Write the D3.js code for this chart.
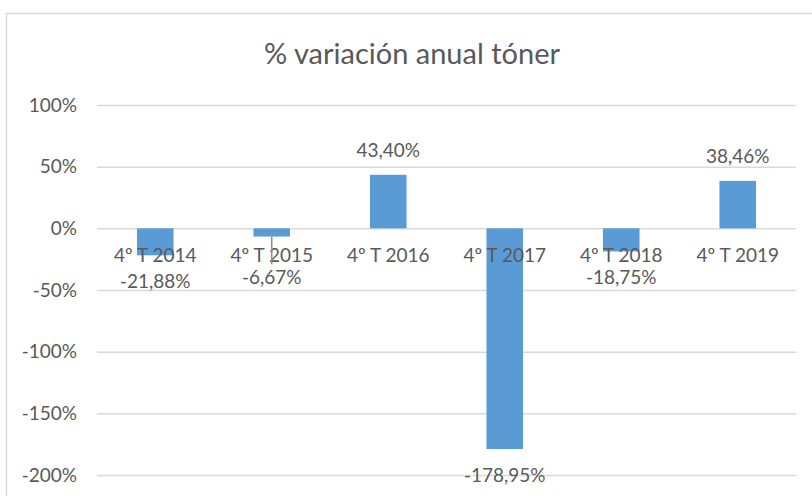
<!DOCTYPE html>
<html>
<head>
<meta charset="utf-8">
<script src="https://cdn.jsdelivr.net/npm/d3@7"></script>
<style>
  body { margin: 0; background: #fff; }
  text { font-family: Lato, "Open Sans", sans-serif; fill: #595959; }
</style>
</head>
<body>
<div id="chart"></div>
<script>
// data
const categories = ["4º T 2014", "4º T 2015", "4º T 2016", "4º T 2017", "4º T 2018", "4º T 2019"]
const variation = [-21.88, -6.67, 43.40, -178.95, -18.75, 38.46]
const yTicks = [100, 50, 0, -50, -100, -150, -200]
const title = "% variación anual tóner"

const data = categories.map((c, i) => ({ cat: c, value: variation[i] }))

// dimensions
const dimensions = {
  width: 812,
  height: 496,
  plot: { left: 97, right: 796, top: 105, bottom: 475 }
}

const svg = d3.select('#chart')
  .append('svg')
  .attr('width', dimensions.width)
  .attr('height', dimensions.height)

// chart area border (runs off the picture on right and bottom)
svg.append('rect')
  .attr('x', 6.5)
  .attr('y', 13.5)
  .attr('width', 900)
  .attr('height', 600)
  .attr('fill', 'none')
  .attr('stroke', '#d9d9d9')
  .attr('stroke-width', 1.5)

// scales
const xScale = d3.scaleBand()
  .domain(categories)
  .range([dimensions.plot.left, dimensions.plot.right])

const yScale = d3.scaleLinear()
  .domain([-200, 100])
  .range([dimensions.plot.bottom, dimensions.plot.top])

const barWidth = xScale.bandwidth() * 0.314

// y axis + gridlines
const yAxis = d3.axisLeft(yScale)
  .tickValues(yTicks)
  .tickFormat(d => d + '%')
  .tickSize(-(dimensions.plot.right - dimensions.plot.left))
  .tickPadding(20)

const yAxisGroup = svg.append('g')
  .attr('transform', `translate(${dimensions.plot.left}, 0)`)
  .call(yAxis)

yAxisGroup.select('.domain').remove()
yAxisGroup.selectAll('.tick line')
  .attr('stroke', '#d9d9d9')
  .attr('stroke-width', 1.5)
yAxisGroup.selectAll('.tick text')
  .attr('font-size', 19)
  .attr('font-family', 'Lato, sans-serif')
  .attr('fill', '#595959')

// bars
svg.append('g')
  .selectAll('rect')
  .data(data)
  .join('rect')
  .attr('x', d => xScale(d.cat) + xScale.bandwidth() / 2 - barWidth / 2)
  .attr('y', d => yScale(Math.max(0, d.value)))
  .attr('width', barWidth)
  .attr('height', d => Math.abs(yScale(d.value) - yScale(0)))
  .attr('fill', '#5b9bd5')

// category labels sit on the zero line, over the bars
const xAxis = d3.axisBottom(xScale).tickSize(0).tickPadding(20)
const xAxisGroup = svg.append('g')
  .attr('transform', `translate(0, ${yScale(0)})`)
  .call(xAxis)
xAxisGroup.select('.domain').remove()
xAxisGroup.selectAll('.tick text')
  .attr('font-size', 19)
  .attr('font-family', 'Lato, sans-serif')
  .attr('fill', '#595959')

// data labels: negative ones go below the bar end but never above the category row
const fmt = v => v.toFixed(2).replace('.', ',') + '%'
const minBelow = yScale(0) + 56
const labelY = d => d.value >= 0
  ? yScale(d.value) - 18
  : Math.max(yScale(d.value) + 33, minBelow)

// leader lines for labels pushed away from their bar
svg.append('g')
  .selectAll('line')
  .data(data.filter(d => d.value < 0 && yScale(d.value) + 33 < minBelow - 1))
  .join('line')
  .attr('x1', d => xScale(d.cat) + xScale.bandwidth() / 2)
  .attr('x2', d => xScale(d.cat) + xScale.bandwidth() / 2)
  .attr('y1', d => yScale(d.value))
  .attr('y2', d => labelY(d) - 20)
  .attr('stroke', '#8c8c8c')
  .attr('stroke-width', 1.5)

svg.append('g')
  .selectAll('text')
  .data(data)
  .join('text')
  .attr('x', d => xScale(d.cat) + xScale.bandwidth() / 2)
  .attr('y', labelY)
  .attr('text-anchor', 'middle')
  .attr('font-size', 19)
  .text(d => fmt(d.value))

// title
svg.append('text')
  .attr('x', 412)
  .attr('y', 64)
  .attr('text-anchor', 'middle')
  .attr('font-size', 29)
  .text(title)
</script>
</body>
</html>
